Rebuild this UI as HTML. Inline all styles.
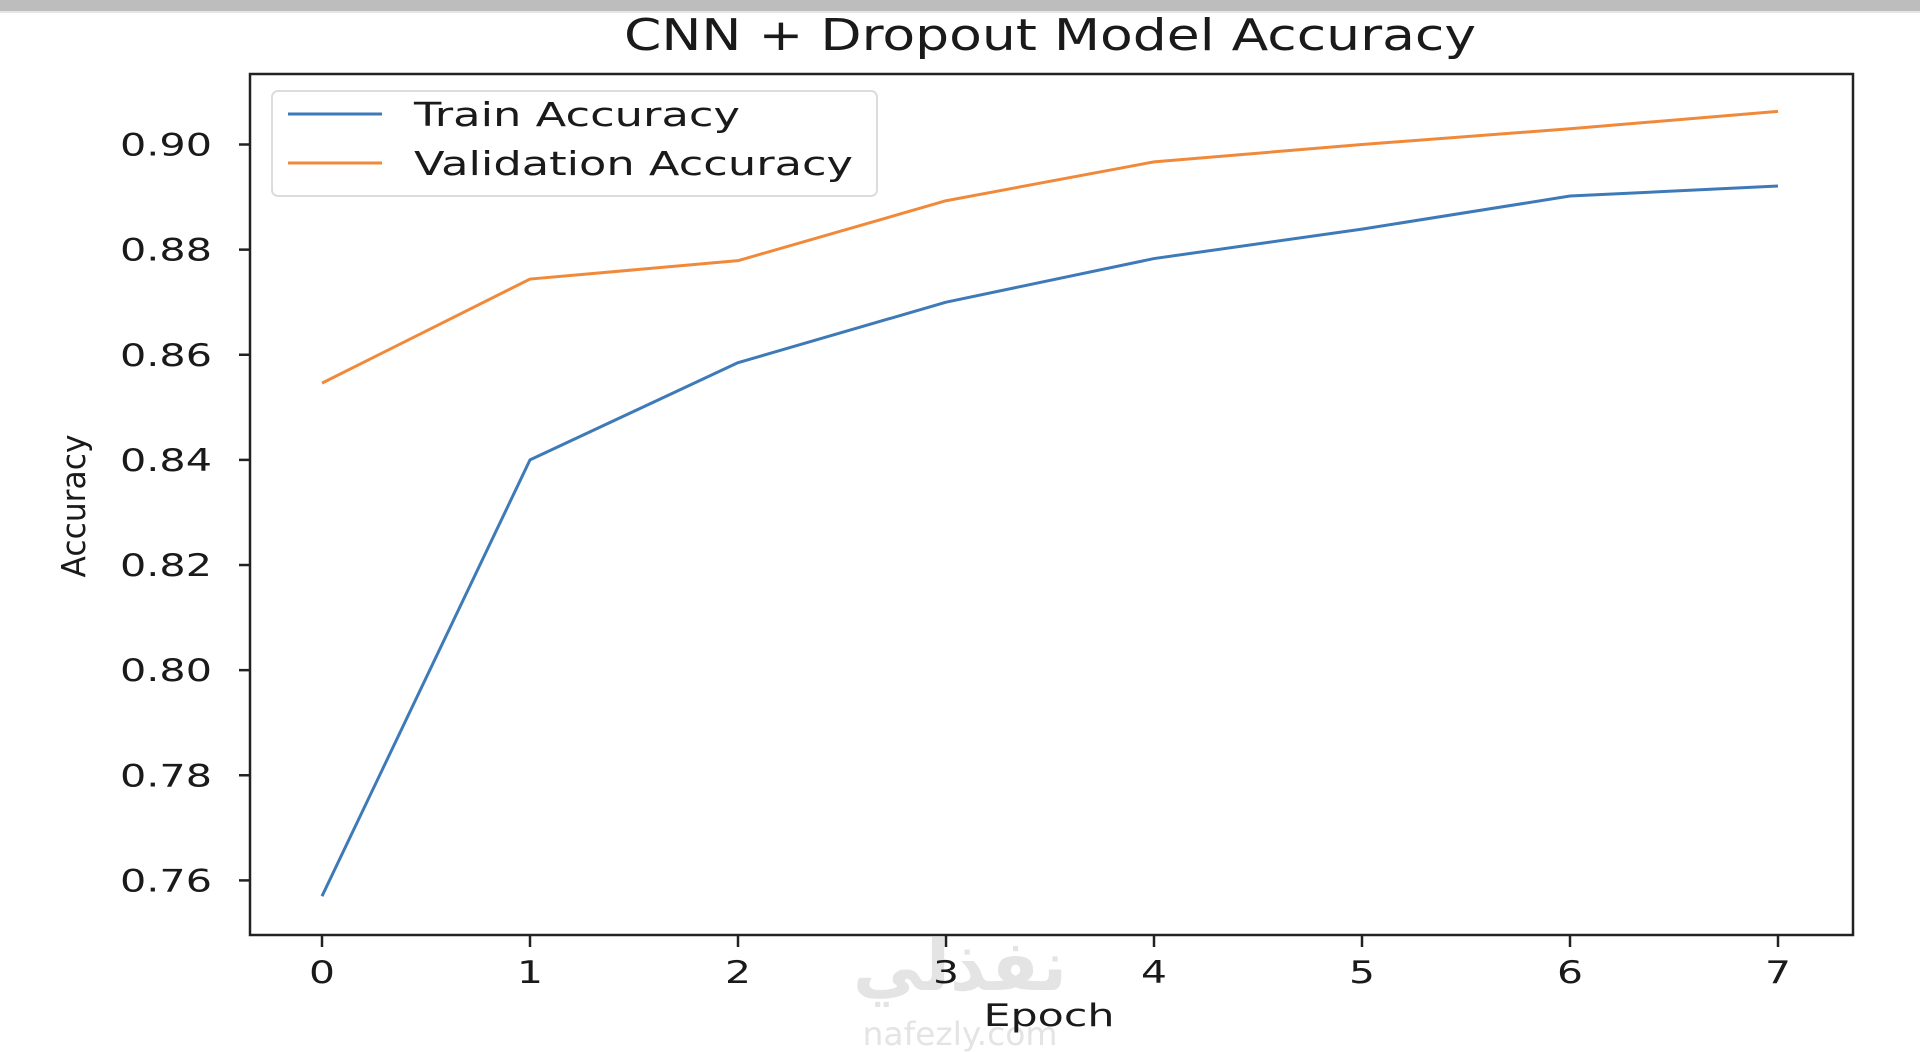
<!DOCTYPE html>
<html><head><meta charset="utf-8"><style>
html,body{margin:0;padding:0;background:#fff;width:1920px;height:1052px;overflow:hidden}
svg{display:block;font-family:"DejaVu Sans","Liberation Sans",sans-serif}
</style></head><body>
<svg id="chart" width="1920" height="1052" viewBox="0 0 1920 1052">
<rect x="0" y="0" width="1920" height="11" fill="#bdbdbd"/>
<rect x="0" y="11" width="1920" height="2" fill="#e6e6e6"/>
<text x="1050" y="50" font-size="44" text-anchor="middle" textLength="852" lengthAdjust="spacingAndGlyphs" fill="#1a1a1a">CNN + Dropout Model Accuracy</text>
<g id="watermark" fill="#e4e4e4">
<text x="960" y="990" font-size="70" font-family="'DejaVu Sans',sans-serif" text-anchor="middle" font-weight="bold">نفذلي</text>
<text x="960" y="1045" font-size="32" text-anchor="middle" textLength="195" lengthAdjust="spacingAndGlyphs">nafezly.com</text>
</g>
<g id="axes"></g>
<g id="series"></g>
<g id="legend">
<rect x="272" y="91" width="605" height="105" rx="6" fill="#fff" fill-opacity="0.85" stroke="#dcdcdc" stroke-width="2"/>
<line x1="288" y1="114" x2="382" y2="114" stroke="#3f7ab8" stroke-width="3"/>
<text x="414" y="126" font-size="33" textLength="326" lengthAdjust="spacingAndGlyphs" fill="#1a1a1a">Train Accuracy</text>
<line x1="288" y1="163" x2="382" y2="163" stroke="#f08a3a" stroke-width="3"/>
<text x="414" y="175" font-size="33" textLength="439" lengthAdjust="spacingAndGlyphs" fill="#1a1a1a">Validation Accuracy</text>
</g>
</svg>
<script>
const epochs = [0,1,2,3,4,5,6,7];
const trainAcc = [0.757,0.840,0.8585,0.870,0.8783,0.8839,0.8902,0.8921];
const valAcc = [0.8546,0.8744,0.8779,0.8893,0.8967,0.900,0.903,0.9063];
const yTicks = [0.76,0.78,0.80,0.82,0.84,0.86,0.88,0.90];
const yTickLabels = ["0.76","0.78","0.80","0.82","0.84","0.86","0.88","0.90"];
const xTickLabels = ["0","1","2","3","4","5","6","7"];

const NS="http://www.w3.org/2000/svg";
const L=250,R=1853,T=74,B=935;
function xS(v){return 322+(v-0)*(1778-322)/7;}
function yS(v){return 880.4+(v-0.76)*(144.5-880.4)/0.14;}
function mk(tag,attrs,parent){const e=document.createElementNS(NS,tag);for(const k in attrs)e.setAttribute(k,attrs[k]);parent.appendChild(e);return e;}
const axes=document.getElementById('axes');
const frame=mk('rect',{x:L,y:T,width:R-L,height:B-T,fill:'none',stroke:'#222','stroke-width':2.5},axes);


yTicks.forEach((v,i)=>{
  const y=yS(v);
  const t=mk('line',{x1:L-11,y1:y,x2:L,y2:y,stroke:'#222','stroke-width':2.5},axes);
  
  
  const tx=mk('text',{x:212,y:y+11,'font-size':31,'text-anchor':'end',textLength:92,lengthAdjust:'spacingAndGlyphs',fill:'#1a1a1a'},axes);
  tx.textContent=yTickLabels[i];
  
  
});
epochs.forEach((v,i)=>{
  const x=xS(v);
  const t=mk('line',{x1:x,y1:B,x2:x,y2:B+12,stroke:'#222','stroke-width':2.5},axes);
  
  
  const tx=mk('text',{x:x,y:983,'font-size':31,'text-anchor':'middle',textLength:26,lengthAdjust:'spacingAndGlyphs',fill:'#1a1a1a'},axes);
  tx.textContent=xTickLabels[i];
  
  
});
const xl=mk('text',{x:1049,y:1026,'font-size':31,'text-anchor':'middle',textLength:131,lengthAdjust:'spacingAndGlyphs',fill:'#1a1a1a'},axes);
xl.textContent='Epoch';


const yl=mk('text',{x:0,y:0,'font-size':33,'text-anchor':'middle',textLength:143,lengthAdjust:'spacingAndGlyphs',fill:'#1a1a1a',transform:'translate(85,506) rotate(-90)'},axes);
yl.textContent='Accuracy';


const ser=document.getElementById('series');
function line(vals,color,name){
  const pts=vals.map((v,i)=>xS(epochs[i])+','+yS(v)).join(' ');
  const p=mk('polyline',{points:pts,fill:'none',stroke:color,'stroke-width':3,'stroke-linejoin':'round'},ser);
  
  
}
line(trainAcc,'#3f7ab8','train-accuracy-line');
line(valAcc,'#f08a3a','validation-accuracy-line');
</script>
</body></html>
